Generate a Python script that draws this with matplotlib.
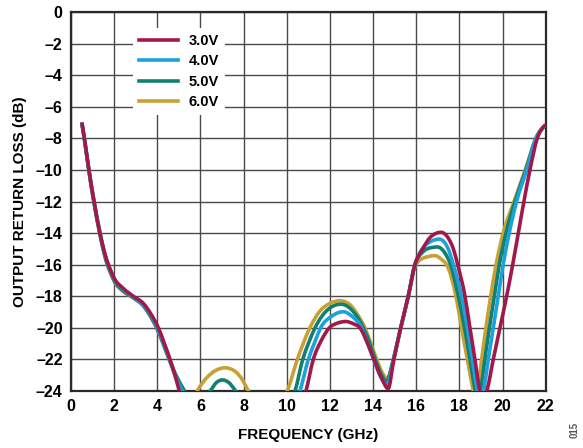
import matplotlib
matplotlib.use("Agg")
import matplotlib.pyplot as plt
import numpy as np
from matplotlib.path import Path
from matplotlib.patches import PathPatch
from matplotlib.lines import Line2D

plt.rcParams['font.family'] = ['Liberation Sans', 'DejaVu Sans']
plt.rcParams['font.weight'] = 'bold'

# Output return loss versus frequency at four supply voltages
freq_3v0 = [0.5, 0.62, 0.83, 1.07, 1.34, 1.6, 1.85, 2.0, 2.42, 2.89, 3.35, 3.74, 4.05, 4.33, 4.59, 4.82, 5.02, 5.3,
            6.0, 7.0, 8.0, 9.0, 10.2, 10.89, 11.23, 11.6, 11.97, 12.35, 12.73, 13.1, 13.39, 13.75, 14.04, 14.4, 14.7,
            14.95, 15.28, 15.63, 15.94, 16.3, 16.7, 17.15, 17.5, 17.72, 17.92, 18.26, 18.49, 18.72, 18.95, 19.1,
            19.27, 19.57, 19.88, 20.19, 20.47, 20.73, 20.99, 21.27, 21.61, 22.0]
loss_3v0 = [-7.0, -8.0, -10.0, -12.0, -14.0, -15.45, -16.4, -16.85, -17.5, -18.0, -18.45, -19.2, -20.0, -21.0, -22.0, -23.0, -24.0, -25.2,
            -26.5, -25.2, -26.5, -29.0, -26.5, -24.0, -22.0, -20.8, -20.0, -19.7, -19.6, -19.75, -20.0, -21.0, -22.0, -23.2, -23.85,
            -22.1, -20.0, -18.0, -16.0, -15.0, -14.2, -13.95, -14.35, -15.0, -16.0, -18.0, -20.0, -22.0, -24.0, -24.5,
            -24.0, -22.0, -20.0, -18.0, -16.0, -14.0, -12.0, -10.0, -8.0, -7.15]

freq_4v0 = [0.5, 0.62, 0.83, 1.07, 1.35, 1.6, 1.85, 2.0, 2.42, 2.89, 3.35, 3.74, 4.0, 4.3, 4.57, 4.85, 5.15, 5.5,
            6.2, 7.0, 7.8, 9.0, 10.2, 10.61, 11.0, 11.3, 11.57, 12.1, 12.62, 13.05, 13.47, 13.75, 14.03, 14.35, 14.66,
            14.93, 15.28, 15.63, 15.94, 16.28, 16.65, 17.07, 17.45, 17.72, 18.1, 18.37, 18.6, 18.84, 18.98, 19.12,
            19.34, 19.57, 19.8, 20.03, 20.31, 20.65, 21.12, 21.55, 22.0]
loss_4v0 = [-7.0, -8.0, -10.0, -12.0, -14.0, -15.5, -16.45, -16.9, -17.55, -18.05, -18.55, -19.3, -20.0, -21.0, -22.0, -23.1, -24.0, -25.3,
            -26.5, -24.5, -26.5, -28.5, -25.5, -24.0, -22.0, -20.9, -20.0, -19.25, -18.98, -19.3, -20.0, -21.0, -22.0, -23.1, -23.6,
            -22.1, -20.0, -18.0, -16.0, -15.0, -14.55, -14.38, -14.9, -16.0, -18.0, -20.0, -22.0, -24.0, -24.8, -24.0,
            -22.0, -20.0, -18.0, -16.0, -14.0, -12.0, -10.0, -8.0, -7.15]

freq_5v0 = [0.5, 0.62, 0.83, 1.07, 1.35, 1.6, 1.85, 2.0, 2.42, 2.89, 3.35, 3.74, 3.97, 4.3, 4.55, 4.9, 5.26, 5.6,
            6.0, 6.45, 6.75, 7.02, 7.3, 7.63, 8.2, 9.2, 10.0, 10.38, 10.74, 11.0, 11.31, 11.9, 12.5, 13.0, 13.55, 13.85,
            14.1, 14.4, 14.63, 14.9, 15.28, 15.63, 15.94, 16.3, 16.6, 16.98, 17.3, 17.59, 17.95, 18.24, 18.49, 18.74,
            18.86, 18.98, 19.18, 19.39, 19.62, 19.85, 20.16, 20.58, 21.08, 21.55, 22.0]
loss_5v0 = [-7.0, -8.05, -10.05, -12.1, -14.1, -15.6, -16.55, -17.0, -17.65, -18.1, -18.6, -19.4, -20.0, -21.1, -22.0, -23.1, -24.0, -24.9,
            -24.7, -24.0, -23.45, -23.3, -23.45, -24.0, -25.3, -26.0, -25.0, -24.0, -22.0, -21.0, -20.0, -18.85, -18.5, -18.85, -20.0, -21.0,
            -22.0, -23.0, -23.41, -22.2, -20.0, -18.0, -16.0, -15.2, -14.95, -14.88, -15.2, -16.0, -18.0, -20.0, -22.0, -24.0,
            -24.8, -24.0, -22.0, -20.0, -18.0, -16.0, -14.0, -12.0, -10.0, -8.0, -7.15]

freq_6v0 = [0.5, 0.62, 0.83, 1.07, 1.35, 1.6, 1.85, 2.0, 2.42, 2.89, 3.35, 3.74, 3.97, 4.3, 4.55, 4.85, 5.1, 5.4,
            5.6, 5.85, 6.29, 6.7, 7.14, 7.6, 7.95, 8.22, 8.8, 9.5, 10.02, 10.49, 11.07, 11.5, 12.0, 12.46, 12.9, 13.3,
            13.62, 13.9, 14.17, 14.45, 14.66, 14.9, 15.28, 15.63, 15.94, 16.3, 16.87, 17.2, 17.41, 17.84, 18.1, 18.37,
            18.64, 18.75, 18.85, 19.03, 19.23, 19.45, 19.7, 20.03, 20.53, 21.05, 21.55, 22.0]
loss_6v0 = [-7.0, -8.05, -10.1, -12.15, -14.15, -15.65, -16.6, -17.05, -17.7, -18.1, -18.6, -19.4, -20.0, -21.1, -22.0, -23.1, -24.0, -24.8,
            -24.7, -24.0, -23.16, -22.7, -22.53, -22.75, -23.3, -24.0, -25.0, -25.0, -24.0, -22.0, -20.0, -19.0, -18.45, -18.28, -18.5, -19.2,
            -20.0, -21.0, -22.0, -22.9, -23.2, -22.3, -20.0, -18.0, -16.1, -15.6, -15.43, -15.7, -16.0, -18.0, -20.0, -22.0,
            -24.0, -24.8, -24.0, -22.0, -20.0, -18.0, -16.0, -14.0, -12.0, -10.0, -8.0, -7.15]

series_labels = ['3.0V', '4.0V', '5.0V', '6.0V']
series_colors = ['#A3184B', '#1BA1DB', '#12806F', '#C9A035']

x_ticks = [0, 2, 4, 6, 8, 10, 12, 14, 16, 18, 20, 22]
x_tick_labels = ['0', '2', '4', '6', '8', '10', '12', '14', '16', '18', '20', '22']
y_ticks = [-24, -22, -20, -18, -16, -14, -12, -10, -8, -6, -4, -2, 0]
y_tick_labels = ['–24', '–22', '–20', '–18', '–16', '–14', '–12', '–10', '–8', '–6', '–4', '–2', '0']


def monotone_path(xs, ys):
    """Smooth cubic Bezier path through the points (monotone-x tangents)."""
    x = np.asarray(xs, float)
    y = np.asarray(ys, float)
    h = np.diff(x)
    s = np.diff(y) / h
    n = len(x)
    t = np.zeros(n)
    for i in range(1, n - 1):
        s0, s1 = s[i - 1], s[i]
        if s0 * s1 <= 0:
            t[i] = 0.0
        else:
            p = (s0 * h[i] + s1 * h[i - 1]) / (h[i - 1] + h[i])
            t[i] = (np.sign(s0) + np.sign(s1)) * min(abs(s0), abs(s1), 0.5 * abs(p))
    t[0] = (3 * s[0] - t[1]) / 2
    t[-1] = (3 * s[-1] - t[-2]) / 2
    verts = [(x[0], y[0])]
    codes = [Path.MOVETO]
    for i in range(n - 1):
        d = h[i] / 3
        verts += [(x[i] + d, y[i] + t[i] * d), (x[i + 1] - d, y[i + 1] - t[i + 1] * d), (x[i + 1], y[i + 1])]
        codes += [Path.CURVE4] * 3
    return Path(verts, codes)


fig = plt.figure(figsize=(5.83, 4.48), dpi=100)
ax = fig.add_axes([0.1218, 0.1272, 0.8142, 0.846])

curves = [(freq_3v0, loss_3v0), (freq_4v0, loss_4v0), (freq_5v0, loss_5v0), (freq_6v0, loss_6v0)]
# draw 6.0V first so the 3.0V trace ends up on top
for i in [3, 2, 1, 0]:
    f, l = curves[i]
    patch = PathPatch(monotone_path(f, l), facecolor='none', edgecolor=series_colors[i],
                      lw=2.6, capstyle='butt', joinstyle='round', zorder=3 + (3 - i))
    ax.add_patch(patch)

ax.set_xlim(0, 22)
ax.set_ylim(-24, 0)
ax.set_xticks(x_ticks)
ax.set_xticklabels(x_tick_labels)
ax.set_yticks(y_ticks)
ax.set_yticklabels(y_tick_labels)
ax.tick_params(length=0, labelsize=11.5, pad=6)
for lab in ax.get_xticklabels() + ax.get_yticklabels():
    lab.set_fontweight('bold')
ax.grid(True, color='#4a4a4a', lw=1.0, zorder=1)
ax.set_axisbelow(True)
for s in ax.spines.values():
    s.set_color('#2a2a2a')
    s.set_linewidth(1.6)

ax.set_xlabel('FREQUENCY (GHz)', fontsize=11, fontweight='bold', labelpad=10)
ax.set_ylabel('OUTPUT RETURN LOSS (dB)', fontsize=11, fontweight='bold', labelpad=6)

handles = [Line2D([], [], color=c, lw=2.6) for c in series_colors]
leg = ax.legend(handles, series_labels, loc='upper left', bbox_to_anchor=(0.13, 0.958),
                frameon=True, fancybox=False, edgecolor='none', facecolor='white', framealpha=1.0,
                fontsize=10.5, handlelength=2.7, handletextpad=0.75, labelspacing=0.45, borderpad=0.4,
                borderaxespad=0)
leg.set_zorder(10)
for t in leg.get_texts():
    t.set_fontweight('bold')

fig.text(0.986, 0.04, '015', rotation=90, fontsize=7, color='#555555', ha='center', va='center')

fig.savefig('out.png', dpi=100)
